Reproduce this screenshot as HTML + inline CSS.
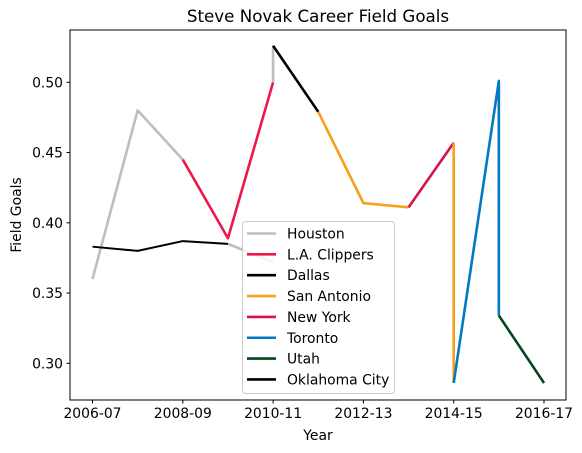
<!DOCTYPE html>
<html><head><meta charset="utf-8"><style>
html,body{margin:0;padding:0;background:#fff}
svg{display:block;font-family:"DejaVu Sans","Liberation Sans",sans-serif}
</style></head><body>
<svg id="chart" width="582" height="453" viewBox="0 0 582 453">
<rect x="0" y="0" width="582" height="453" fill="#fff"/>
<text x="318" y="22" font-size="16.7" text-anchor="middle" fill="#000">Steve Novak Career Field Goals</text>
<g id="marks"></g>
<rect x="70" y="30" width="496" height="370" fill="none" stroke="#000" stroke-width="1"/>
<g id="xticks"></g><g id="yticks"></g>
<text x="318" y="440" font-size="13.9" text-anchor="middle">Year</text>
<text transform="translate(21,215) rotate(-90)" font-size="13.9" text-anchor="middle">Field Goals</text>
<g id="legend">
<rect x="242.5" y="221.5" width="152" height="172" rx="3" fill="#fff" fill-opacity="0.8" stroke="#ccc" stroke-width="1"/>
</g>
</svg>
<script>
const seasons = ["2006-07","2007-08","2008-09","2009-10","2010-11","2011-12","2012-13","2013-14","2014-15","2015-16","2016-17"];
const xTickLabels = ["2006-07","2008-09","2010-11","2012-13","2014-15","2016-17"];
const yTickValues = [0.30,0.35,0.40,0.45,0.50];
const teamNames = ["Houston","L.A. Clippers","Dallas","San Antonio","New York","Toronto","Utah","Oklahoma City"];
const teamColors = ["#bebebe","#ed174c","#000000","#f9a01b","#d4154a","#007ac1","#00471b","#000000"];
const houstonIdx = [0,1,2]; const houstonVals = [0.360,0.480,0.445];
const houston2Idx = [4,4]; const houston2Vals = [0.500,0.526];
const houston3Idx = [3,4]; const houston3Vals = [0.385,0.372];
const clippersIdx = [2,3,4]; const clippersVals = [0.445,0.389,0.500];
const dallasIdx = [4,5]; const dallasVals = [0.526,0.479];
const spursIdx = [5,6,7]; const spursVals = [0.479,0.414,0.411];
const spurs2Idx = [8,8]; const spurs2Vals = [0.457,0.286];
const knicksIdx = [7,8]; const knicksVals = [0.411,0.457];
const torontoIdx = [8,9,9]; const torontoVals = [0.286,0.501,0.334];
const utahIdx = [9,10]; const utahVals = [0.334,0.286];
const okcIdx = [0,1,2,3]; const okcVals = [0.383,0.380,0.387,0.385];

const NS="http://www.w3.org/2000/svg";
function xs(i){return 92.5+i*45.15;}
function ys(v){return 82.3+(0.5-v)*1405;}
const marks=document.getElementById('marks');
function line(idx,vals,team,w,name){
  const p=document.createElementNS(NS,'polyline');
  p.setAttribute('points',idx.map((i,k)=>xs(i)+','+ys(vals[k])).join(' '));
  p.setAttribute('fill','none');p.setAttribute('stroke',teamColors[team]);
  p.setAttribute('stroke-width',w);p.setAttribute('stroke-linejoin','round');
  
  
  marks.appendChild(p);
}
line(houstonIdx,houstonVals,0,2.6,'houston-line');
line(houston3Idx,houston3Vals,0,2.6,'houston-line-2');
line(okcIdx,okcVals,7,2,'oklahoma-city-line');
line(clippersIdx,clippersVals,1,2.6,'clippers-line');
line(houston2Idx,houston2Vals,0,2.6,'houston-line-3');
line(dallasIdx,dallasVals,2,2.6,'dallas-line');
line(spursIdx,spursVals,3,2.6,'san-antonio-line');
line(knicksIdx,knicksVals,4,2.6,'new-york-line');
line(spurs2Idx,spurs2Vals,3,2.6,'san-antonio-line-2');
line(torontoIdx,torontoVals,5,2.6,'toronto-line');
line(utahIdx,utahVals,6,2.6,'utah-line');

const xt=document.getElementById('xticks');
xTickLabels.forEach(l=>{
  const i=seasons.indexOf(l);const x=xs(i);
  const t=document.createElementNS(NS,'line');
  t.setAttribute('x1',x);t.setAttribute('x2',x);t.setAttribute('y1',400);t.setAttribute('y2',403.5);
  t.setAttribute('stroke','#000');
  
  
  xt.appendChild(t);
  const s=document.createElementNS(NS,'text');
  s.setAttribute('x',x);s.setAttribute('y',418);s.setAttribute('font-size','13.9');s.setAttribute('text-anchor','middle');
  s.textContent=l;
  
  
  xt.appendChild(s);
});
const yt=document.getElementById('yticks');
yTickValues.forEach(v=>{
  const y=ys(v);
  const t=document.createElementNS(NS,'line');
  t.setAttribute('x1',66.5);t.setAttribute('x2',70);t.setAttribute('y1',y);t.setAttribute('y2',y);
  t.setAttribute('stroke','#000');
  
  
  yt.appendChild(t);
  const s=document.createElementNS(NS,'text');
  s.setAttribute('x',63);s.setAttribute('y',y+5);s.setAttribute('font-size','13.9');s.setAttribute('text-anchor','end');
  s.textContent=v.toFixed(2);
  
  
  yt.appendChild(s);
});
const lg=document.getElementById('legend');
teamNames.forEach((n,k)=>{
  const y=233.5+k*20.85;
  const l=document.createElementNS(NS,'line');
  l.setAttribute('x1',247);l.setAttribute('x2',276);l.setAttribute('y1',y);l.setAttribute('y2',y);
  l.setAttribute('stroke',teamColors[k]);l.setAttribute('stroke-width',2.6);
  
  
  lg.appendChild(l);
  const s=document.createElementNS(NS,'text');
  s.setAttribute('x',287);s.setAttribute('y',y+5);s.setAttribute('font-size','13.9');
  s.textContent=n;
  
  
  lg.appendChild(s);
});
</script>
</body></html>
